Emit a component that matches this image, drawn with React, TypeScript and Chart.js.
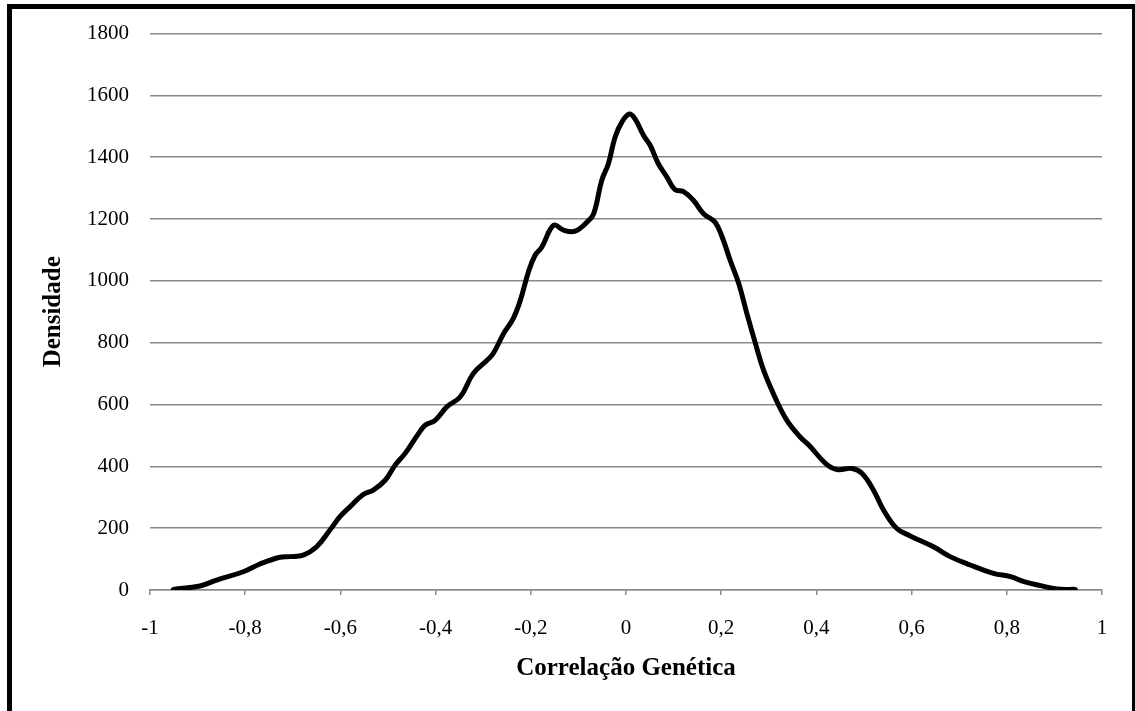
import React, { useEffect, useRef } from "react";
import { Chart, registerables } from "chart.js";

Chart.register(...registerables);

const xValues = [
  -0.951, -0.895, -0.86, -0.804, -0.769, -0.727, -0.706, -0.678, -0.65, -0.622,
  -0.601, -0.58, -0.552, -0.531, -0.506, -0.485, -0.464, -0.436, -0.422, -0.401,
  -0.376, -0.348, -0.321, -0.292, -0.279, -0.257, -0.237, -0.222, -0.205, -0.191,
  -0.177, -0.152, -0.131, -0.107, -0.082, -0.068, -0.051, -0.037, -0.023, -0.009,
  0.007, 0.019, 0.037, 0.051, 0.068, 0.086, 0.103, 0.121, 0.142, 0.163,
  0.187, 0.202, 0.219, 0.237, 0.254, 0.272, 0.289, 0.314, 0.338, 0.366,
  0.384, 0.419, 0.443, 0.475, 0.496, 0.52, 0.541, 0.569, 0.597, 0.646,
  0.681, 0.723, 0.772, 0.808, 0.836, 0.871, 0.906, 0.944,
];

const densityValues = [
  2, 13, 32, 59, 84, 106, 108, 113, 140, 194,
  237, 269, 309, 323, 355, 404, 442, 506, 533, 549,
  593, 625, 700, 743, 765, 830, 878, 937, 1029, 1083,
  1109, 1180, 1164, 1161, 1190, 1217, 1325, 1379, 1465, 1513,
  1540, 1524, 1470, 1438, 1379, 1336, 1295, 1289, 1260, 1217,
  1190, 1142, 1066, 991, 894, 797, 711, 620, 549, 495,
  469, 410, 390, 393, 377, 323, 259, 199, 175, 140,
  108, 81, 54, 43, 27, 14, 3, 2,
];

const xTitle = "Correlação Genética";
const yTitle = "Densidade";
const xMin = -1;
const xMax = 1;
const xStep = 0.2;
const yMin = 0;
const yMax = 1800;
const yStep = 200;

const W = 1135;
const H = 711;
const GRID = "#8a8a8a";
const FONT = "'Liberation Serif', 'Times New Roman', serif";

export default function App() {
  const ref = useRef<HTMLCanvasElement | null>(null);

  useEffect(() => {
    if (!ref.current) return;
    const data = xValues.map((x, i) => ({ x, y: densityValues[i] }));
    const chart = new Chart(ref.current, {
      type: "line",
      data: {
        datasets: [
          {
            data,
            borderColor: "#000",
            borderWidth: 5,
            pointRadius: 0,
            tension: 0.4,
            borderCapStyle: "round",
            borderJoinStyle: "round",
            fill: false,
          },
        ],
      },
      options: {
        animation: false,
        responsive: false,
        devicePixelRatio: 1,
        layout: { padding: { left: 12, top: 33, right: 33, bottom: 0 } },
        plugins: {
          legend: { display: false },
          tooltip: { enabled: false },
        },
        scales: {
          x: {
            type: "linear",
            min: xMin,
            max: xMax,
            afterFit: (s: any) => {
              s.height = 121;
            },
            ticks: {
              stepSize: xStep,
              padding: 21,
              color: "#000",
              font: { family: FONT, size: 21 },
              maxRotation: 0,
              autoSkip: false,
              callback: (v: any) => {
                const n = Math.round(Number(v) * 10) / 10;
                return String(n).replace(".", ",");
              },
            },
            grid: {
              drawOnChartArea: false,
              drawTicks: true,
              tickLength: 5,
              color: GRID,
              lineWidth: 1.5,
            },
            border: { display: true, color: GRID, width: 1.5 },
            title: {
              display: true,
              text: xTitle,
              color: "#000",
              font: { family: FONT, size: 25, weight: "bold" },
              padding: { top: 0, bottom: 27 },
            },
          },
          y: {
            type: "linear",
            min: yMin,
            max: yMax,
            afterFit: (s: any) => {
              s.width = 138;
            },
            ticks: {
              stepSize: yStep,
              padding: 21,
              color: "#000",
              font: { family: FONT, size: 21 },
              callback: (v: any) => String(Math.round(Number(v))),
            },
            grid: {
              drawTicks: false,
              color: GRID,
              lineWidth: 1.5,
            },
            border: { display: false },
            title: {
              display: true,
              text: yTitle,
              color: "#000",
              font: { family: FONT, size: 25, weight: "bold" },
              padding: { top: 27, bottom: 0 },
            },
          },
        },
      },
    });
    return () => chart.destroy();
  }, []);

  return (
    <div
      style={{
        position: "fixed",
        left: 0,
        top: 0,
        width: W,
        height: H,
        background: "#fff",
        overflow: "hidden",
      }}
    >
      <canvas
        ref={ref}
        width={W}
        height={H}
        style={{ display: "block", width: W, height: H }}
      />
      <div
        style={{
          position: "absolute",
          left: 7,
          top: 4,
          width: W - 7,
          height: H - 4,
          boxSizing: "border-box",
          borderLeft: "5px solid #000",
          borderTop: "5px solid #000",
          borderRight: "3px solid #000",
          pointerEvents: "none",
        }}
      />
    </div>
  );
}
